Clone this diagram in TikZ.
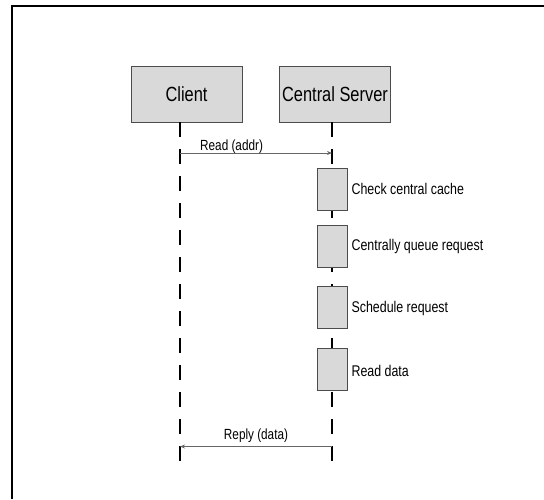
\documentclass[tikz,border=0pt]{standalone}
\usepackage{fontspec}
\setmainfont{Liberation Sans}[FakeStretch=0.8]
\usetikzlibrary{arrows.meta}
\begin{document}
\begin{tikzpicture}[x=1pt,y=-1pt,
  actor/.style={draw=black!70, fill=black!15, line width=0.8pt,
    minimum width=111pt, minimum height=56pt, inner sep=0pt,
    font=\fontsize{20.5}{24}\selectfont},
  activity/.style={draw=black!70, fill=black!15, line width=0.8pt,
    minimum width=30pt, minimum height=42pt, inner sep=0pt},
  lifeline/.style={line width=2.8pt, dash pattern=on 15pt off 12pt},
  msg/.style={draw=black!60, line width=0.8pt,
    -{Stealth[length=5pt,width=4pt]}},
  msgtext/.style={inner sep=0pt, font=\fontsize{14.7}{17}\selectfont},
  note/.style={inner sep=0pt, anchor=west, font=\fontsize{15.5}{18}\selectfont},
  frame/.style={line width=2.5pt}]

  \useasboundingbox (0,0) rectangle (544,499);

  % outer frame (top and left edges)
  \draw[frame] (12,499) -- (12,6) -- (544,6);

  % participants
  \node[actor] (client) at (186.5,94) {Client};
  \node[actor] (server) at (335,94) {Central Server};

  % lifeline end points
  \coordinate (cTop) at (180,122);
  \coordinate (cEnd) at (180,462);
  \coordinate (sTop) at (332,122);
  \coordinate (sEnd) at (332,462);

  \draw[lifeline] (cTop) -- (cEnd);
  \draw[lifeline] (sTop) -- (sEnd);

  % activations on the server
  \node[activity] (a1) at (332,189) {};
  \node[activity] (a2) at (332,246) {};
  \node[activity] (a3) at (332,307.5) {};
  \node[activity] (a4) at (332,369) {};

  \node[note] (n1) at ([xshift=4pt]a1.east) {Check central cache};
  \node[note] (n2) at ([xshift=4pt]a2.east) {Centrally queue request};
  \node[note] (n3) at ([xshift=4pt,yshift=-1pt]a3.east) {Schedule request};
  \node[note] (n4) at ([xshift=4pt,yshift=-2pt]a4.east) {Read data};

  % messages
  \coordinate (readFrom) at (180,153);
  \coordinate (readTo) at (332,153);
  \coordinate (replyFrom) at (332,446.5);
  \coordinate (replyTo) at (180,446.5);

  \draw[msg] (readFrom) -- (readTo);
  \node[msgtext, anchor=base west] (readLbl) at (200,150.5) {Read (addr)};

  \draw[msg] (replyFrom) -- (replyTo);
  \node[msgtext, anchor=base] (replyLbl) at (256,439.5) {Reply (data)};
\end{tikzpicture}
\end{document}
